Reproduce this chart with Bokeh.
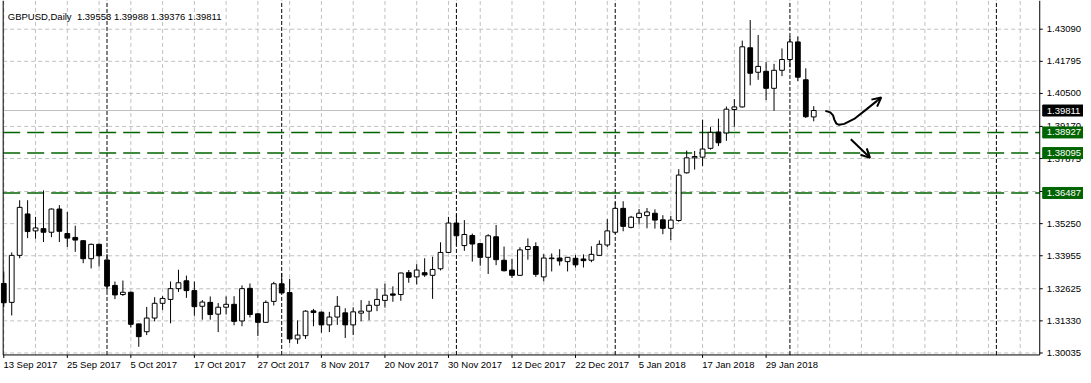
from bokeh.plotting import figure
from bokeh.models import Range1d, ColumnDataSource, Arrow, OpenHead
from bokeh.core.properties import value
from bokeh.embed import file_html
from bokeh.resources import INLINE

# ---------------- data (GBPUSD daily) ----------------
opens = [1.32838, 1.32076, 1.33971, 1.35641, 1.34958, 1.35049, 1.34903, 1.35838, 1.34851, 1.34694,
         1.34563, 1.33837, 1.34417, 1.33785, 1.32759, 1.32392, 1.32483, 1.31208, 1.30892, 1.31444,
         1.32037, 1.32195, 1.32629, 1.32945, 1.32550, 1.31918, 1.32076, 1.31602, 1.31879, 1.31997,
         1.31326, 1.32641, 1.31614, 1.31271, 1.32116, 1.32826, 1.32471, 1.30600, 1.30734, 1.31733,
         1.31681, 1.31168, 1.31484, 1.31654, 1.31168, 1.31642, 1.31721, 1.31958, 1.32155, 1.32416,
         1.32392, 1.33272, 1.33103, 1.33272, 1.33166, 1.33430, 1.34089, 1.35274, 1.34366, 1.34772,
         1.34445, 1.33892, 1.34721, 1.33774, 1.33379, 1.33166, 1.34208, 1.34326, 1.33103, 1.33837,
         1.33864, 1.33718, 1.33853, 1.33825, 1.33774, 1.33971, 1.34390, 1.34903, 1.35866, 1.35100,
         1.35495, 1.35574, 1.35669, 1.35404, 1.35061, 1.35377, 1.37299, 1.37903, 1.37931, 1.38286,
         1.38945, 1.38906, 1.39853, 1.39956, 1.42341, 1.41354, 1.41393, 1.40706, 1.41433, 1.41867,
         1.42577, 1.41050, 1.39553]
highs = [1.33324, 1.34089, 1.36194, 1.36194, 1.35523, 1.36589, 1.35866, 1.35996, 1.35720, 1.35167,
         1.34575, 1.34445, 1.34445, 1.34022, 1.32917, 1.32956, 1.32510, 1.31219, 1.31891, 1.32285,
         1.32325, 1.32917, 1.33391, 1.33154, 1.32917, 1.32167, 1.32313, 1.32048, 1.32313, 1.32325,
         1.32759, 1.32838, 1.31642, 1.32155, 1.32905, 1.33260, 1.33024, 1.31350, 1.31760, 1.31812,
         1.31705, 1.31693, 1.32325, 1.31839, 1.31879, 1.32167, 1.32139, 1.32629, 1.32826, 1.32720,
         1.33272, 1.33379, 1.33616, 1.33853, 1.33916, 1.34496, 1.35523, 1.35629, 1.35392, 1.34851,
         1.34457, 1.34824, 1.35195, 1.34326, 1.33837, 1.34299, 1.34654, 1.34496, 1.34022, 1.34050,
         1.34220, 1.33904, 1.33983, 1.34011, 1.34338, 1.34575, 1.35432, 1.36115, 1.36154, 1.35562,
         1.35838, 1.35878, 1.35827, 1.35590, 1.35562, 1.37445, 1.38195, 1.38180, 1.39443, 1.39143,
         1.39482, 1.39972, 1.40272, 1.42629, 1.43458, 1.42854, 1.41772, 1.41693, 1.42313, 1.42799,
         1.42799, 1.41512, 1.39988]
lows = [1.31879, 1.31547, 1.33853, 1.34666, 1.34642, 1.34508, 1.34705, 1.34508, 1.34311, 1.34113,
        1.33655, 1.33442, 1.33521, 1.32534, 1.32206, 1.32337, 1.31061, 1.30284, 1.30757, 1.31310,
        1.31772, 1.31231, 1.32495, 1.32258, 1.31535, 1.31377, 1.31377, 1.30876, 1.31587, 1.31152,
        1.31113, 1.31468, 1.30718, 1.31259, 1.31950, 1.32443, 1.30430, 1.30402, 1.30600, 1.31113,
        1.30852, 1.30876, 1.31168, 1.30639, 1.30757, 1.31310, 1.31350, 1.31721, 1.31863, 1.32100,
        1.32139, 1.32866, 1.32799, 1.33103, 1.32218, 1.33363, 1.34074, 1.34378, 1.34153, 1.33718,
        1.33549, 1.33221, 1.33576, 1.33324, 1.33063, 1.33142, 1.33797, 1.33103, 1.32929, 1.33324,
        1.33560, 1.33324, 1.33482, 1.33482, 1.33695, 1.33955, 1.34311, 1.34840, 1.34942, 1.35061,
        1.35219, 1.35061, 1.35049, 1.34824, 1.34587, 1.35325, 1.37272, 1.37429, 1.37564, 1.38235,
        1.38377, 1.38590, 1.39155, 1.39930, 1.40825, 1.41050, 1.40232, 1.39798, 1.41196, 1.41551,
        1.40998, 1.39510, 1.39376]
closes = [1.32060, 1.33971, 1.35906, 1.34930, 1.35076, 1.34903, 1.35838, 1.34942, 1.34666, 1.34587,
          1.33837, 1.34417, 1.33955, 1.32731, 1.32376, 1.32483, 1.31192, 1.30694, 1.31444, 1.32037,
          1.32234, 1.32629, 1.32866, 1.32550, 1.31902, 1.32088, 1.31587, 1.31879, 1.31997, 1.31310,
          1.32629, 1.31587, 1.31271, 1.32076, 1.32826, 1.32455, 1.30600, 1.30757, 1.31721, 1.31665,
          1.31168, 1.31484, 1.31918, 1.31168, 1.31693, 1.31721, 1.31958, 1.32195, 1.32364, 1.32364,
          1.33260, 1.33087, 1.33379, 1.33181, 1.33403, 1.34089, 1.35274, 1.34761, 1.34812, 1.34429,
          1.33892, 1.34761, 1.33797, 1.33351, 1.33166, 1.34192, 1.34326, 1.33205, 1.33864, 1.33864,
          1.33746, 1.33892, 1.33588, 1.33758, 1.34011, 1.34417, 1.34958, 1.35866, 1.35140, 1.35511,
          1.35669, 1.35720, 1.35392, 1.35061, 1.35392, 1.37208, 1.37903, 1.37958, 1.38258, 1.38930,
          1.38511, 1.39865, 1.39956, 1.42380, 1.41314, 1.41590, 1.40706, 1.41433, 1.41867, 1.42577,
          1.41156, 1.39561, 1.39811]

date_labels = ["13 Sep 2017", "25 Sep 2017", "5 Oct 2017", "17 Oct 2017", "27 Oct 2017",
               "8 Nov 2017", "20 Nov 2017", "30 Nov 2017", "12 Dec 2017", "22 Dec 2017",
               "5 Jan 2018", "17 Jan 2018", "29 Jan 2018"]
label_bars = [0, 8, 16, 24, 32, 40, 48, 56, 64, 72, 80, 88, 96]
separator_bars = [13, 35, 57, 77, 99, 125]          # month separators (bar index)
price_ticks = [1.30035, 1.31330, 1.32625, 1.33955, 1.35250, 1.36545,
               1.37875, 1.39170, 1.40500, 1.41795, 1.43090]
level_prices = [1.38927, 1.38095, 1.36487]          # green horizontal levels
title_text = "GBPUSD,Daily\u00a0\u00a01.39553 1.39988 1.39376 1.39811"

# hand-drawn arrows (bar index, price)
curve_x = [103.46, 104.09, 104.43, 104.59, 104.84, 105.21, 105.84, 107.09, 108.55, 110.0]
curve_y = [1.39798, 1.39735, 1.39617, 1.39443, 1.39285, 1.39234, 1.39273, 1.39470, 1.39838, 1.40209]
curve_tip = (110.5, 1.40339)
down_arrow = (106.67, 1.38653, 109.09, 1.37903)

# ---------------- layout constants ----------------
W, H = 1083, 375
XS, XE = -0.413, 135.97          # whole canvas in bar units
YS, YE = 1.29127, 1.44247        # whole canvas in price units
XL, XR = -0.075, 130.46          # chart frame left / right (price scale line)
YB = 1.29956                     # time scale line
PXX = (XE - XS) / W              # bar units per pixel
PXY = (YE - YS) / H              # price units per pixel
FONT = value("Liberation Sans")
FS = "9.5px"
GREEN = "#006400"
GRID = "#c0c0c0"

p = figure(width=W, height=H, x_range=Range1d(XS, XE), y_range=Range1d(YS, YE),
           x_axis_type=None, y_axis_type=None, output_backend="svg",
           toolbar_location=None, min_border=0,
           background_fill_color="white", border_fill_color="white")
p.outline_line_color = None

# grid
vg = list(range(0, 129, 4))
p.segment(x0=vg, y0=[YB] * len(vg), x1=vg, y1=[YE] * len(vg),
          line_color=GRID, line_dash="4 3", line_width=1)
p.segment(x0=[XL] * len(price_ticks), y0=price_ticks, x1=[XR] * len(price_ticks), y1=price_ticks,
          line_color=GRID, line_dash="4 3", line_width=1)

# month separators
p.segment(x0=separator_bars, y0=[YB] * len(separator_bars), x1=separator_bars,
          y1=[YE] * len(separator_bars), line_color="black", line_dash="4 2", line_width=1)

# bid line and green levels
p.segment(x0=[XL], y0=[closes[-1]], x1=[XR], y1=[closes[-1]], line_color=GRID, line_width=1)
p.segment(x0=[XL] * 3, y0=level_prices, x1=[XR] * 3, y1=level_prices,
          line_color=GREEN, line_dash="17 7", line_width=1.5)

# candles
idx = list(range(len(opens)))
src = ColumnDataSource(dict(
    x=idx, o=opens, h=highs, l=lows, c=closes,
    top=[max(o, c) for o, c in zip(opens, closes)],
    bottom=[min(o, c) for o, c in zip(opens, closes)],
    fill=["white" if c >= o else "black" for o, c in zip(opens, closes)],
))
p.segment(x0="x", y0="h", x1="x", y1="l", line_color="black", line_width=1, source=src)
p.vbar(x="x", width=0.6, top="top", bottom="bottom", fill_color="fill",
       line_color="black", line_width=1, source=src)

# hand-drawn arrows
p.line(curve_x, curve_y, line_color="black", line_width=2)
p.add_layout(Arrow(end=OpenHead(size=9, line_width=2, line_color="black"),
                   x_start=curve_x[-1], y_start=curve_y[-1],
                   x_end=curve_tip[0], y_end=curve_tip[1],
                   line_width=2, line_color="black"))
p.add_layout(Arrow(end=OpenHead(size=9, line_width=2, line_color="black"),
                   x_start=down_arrow[0], y_start=down_arrow[1],
                   x_end=down_arrow[2], y_end=down_arrow[3],
                   line_width=2, line_color="black"))

# frame lines
p.segment(x0=[XL, XL, XR], y0=[YB, YB, YB], x1=[XL, XR, XR], y1=[YE, YB, YE],
          line_color="black", line_width=1)

# price scale: ticks + labels
p.segment(x0=[XR] * len(price_ticks), y0=price_ticks,
          x1=[XR + 3 * PXX] * len(price_ticks), y1=price_ticks, line_color="black")
p.text(x=[XR + 7 * PXX] * len(price_ticks), y=price_ticks,
       text=[f"{t:.5f}" for t in price_ticks], text_font=FONT, text_font_size=FS,
       text_color="black", text_align="left", text_baseline="middle")

# price tags
tag_prices = [closes[-1]] + level_prices
tag_colors = ["black"] + [GREEN] * len(level_prices)
p.quad(left=[XR + 3 * PXX] * 4, right=[XE] * 4,
       top=[t + 5.5 * PXY for t in tag_prices], bottom=[t - 5.5 * PXY for t in tag_prices],
       fill_color=tag_colors, line_color=tag_colors)
p.text(x=[XR + 7 * PXX] * 4, y=tag_prices, text=[f"{t:.5f}" for t in tag_prices],
       text_font=FONT, text_font_size=FS, text_color="white",
       text_align="left", text_baseline="middle")

# time scale: ticks + labels
p.segment(x0=label_bars, y0=[YB] * len(label_bars), x1=label_bars,
          y1=[YB - 3 * PXY] * len(label_bars), line_color="black")
p.text(x=[b - 0.05 for b in label_bars], y=[YB - 4 * PXY] * len(label_bars), text=date_labels,
       text_font=FONT, text_font_size=FS, text_color="black",
       text_align="left", text_baseline="top")

# title inside chart
p.text(x=[0.5], y=[YB + 338.5 * PXY], text=[title_text], text_font=FONT, text_font_size=FS,
       text_color="black", text_align="left", text_baseline="middle")

open("out.html", "w").write(file_html(p, INLINE))
